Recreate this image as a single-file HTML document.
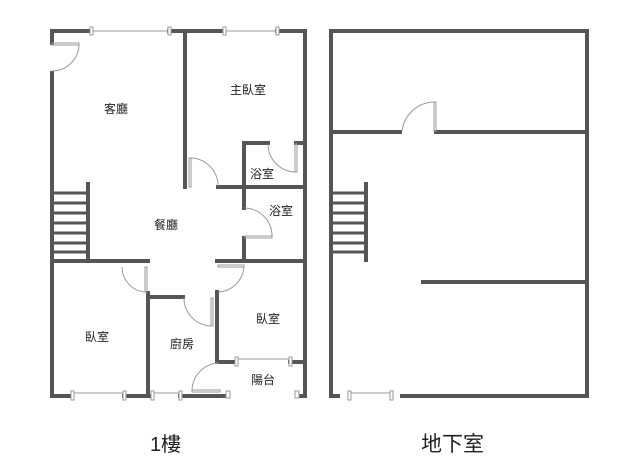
<!DOCTYPE html>
<html><head><meta charset="utf-8"><style>
html,body{margin:0;padding:0;background:#fff;}
svg{display:block}
text{font-family:"Liberation Sans","Noto Sans CJK TC",sans-serif;fill:#222}
</style></head><body>
<svg width="625" height="475" viewBox="0 0 625 475" xmlns="http://www.w3.org/2000/svg">
<g stroke="#555" stroke-width="4" fill="none" stroke-linecap="square">
<!-- 1F outer -->
<line x1="52" y1="31" x2="91" y2="31"/>
<line x1="169" y1="31" x2="224" y2="31"/>
<line x1="277" y1="31" x2="305" y2="31"/>
<line x1="52" y1="31" x2="52" y2="43"/>
<line x1="52" y1="73" x2="52" y2="396"/>
<line x1="305" y1="31" x2="305" y2="396"/>
<line x1="52" y1="396" x2="72" y2="396"/>
<line x1="124" y1="396" x2="152" y2="396"/>
<line x1="180" y1="396" x2="226" y2="396"/>
<line x1="299" y1="396" x2="305" y2="396"/>
<!-- interior -->
<line x1="185" y1="31" x2="185" y2="187"/>
<line x1="218" y1="187" x2="305" y2="187"/>
<line x1="244" y1="143" x2="268" y2="143"/>
<line x1="296" y1="143" x2="305" y2="143"/>
<line x1="244" y1="143" x2="244" y2="208"/>
<line x1="244" y1="238" x2="244" y2="261"/>
<line x1="88" y1="184" x2="88" y2="261"/>
<line x1="52" y1="261" x2="148" y2="261"/>
<line x1="148" y1="293" x2="148" y2="396"/>
<line x1="148" y1="297" x2="183" y2="297"/>
<line x1="217" y1="261" x2="305" y2="261"/>
<line x1="217" y1="292" x2="217" y2="362"/>
<line x1="217" y1="362" x2="236" y2="362"/>
<line x1="290" y1="362" x2="305" y2="362"/>
<!-- stairs 1F -->
<g stroke-width="3">
<line x1="52" y1="193" x2="88" y2="193"/><line x1="52" y1="203" x2="88" y2="203"/>
<line x1="52" y1="213" x2="88" y2="213"/><line x1="52" y1="223" x2="88" y2="223"/>
<line x1="52" y1="233" x2="88" y2="233"/><line x1="52" y1="243" x2="88" y2="243"/>
<line x1="52" y1="252" x2="88" y2="252"/>
</g>
<!-- B1 -->
<rect x="331" y="31" width="256" height="365"/>
<line x1="331" y1="132" x2="400" y2="132"/>
<line x1="436" y1="132" x2="587" y2="132"/>
<line x1="366" y1="184" x2="366" y2="260"/>
<line x1="423" y1="282" x2="587" y2="282"/>
<g stroke-width="3">
<line x1="331" y1="193" x2="366" y2="193"/><line x1="331" y1="203" x2="366" y2="203"/>
<line x1="331" y1="213" x2="366" y2="213"/><line x1="331" y1="223" x2="366" y2="223"/>
<line x1="331" y1="233" x2="366" y2="233"/><line x1="331" y1="243" x2="366" y2="243"/>
<line x1="331" y1="252" x2="366" y2="252"/>
</g>
</g>
<rect x="340" y="394" width="60" height="4" fill="#fff"/>
<!-- windows -->
<g stroke="#999" stroke-width="1" fill="#fff">
<line x1="91" y1="31" x2="169" y2="31"/><line x1="224" y1="31" x2="277" y2="31"/>
<line x1="72" y1="393" x2="124" y2="393"/><line x1="152" y1="393" x2="180" y2="393"/>
<line x1="236" y1="359" x2="290" y2="359"/><line x1="349" y1="393" x2="391" y2="393"/>
<rect x="90" y="27" width="3" height="8"/><rect x="168" y="27" width="3" height="8"/>
<rect x="223" y="27" width="3" height="8"/><rect x="276" y="27" width="3" height="8"/>
<rect x="71" y="391" width="3" height="9"/><rect x="123" y="391" width="3" height="9"/>
<rect x="151" y="391" width="3" height="9"/><rect x="179" y="391" width="3" height="9"/>
<rect x="235" y="357" width="3" height="9"/><rect x="289" y="357" width="3" height="9"/>
<rect x="348" y="391" width="3" height="9"/><rect x="390" y="391" width="3" height="9"/>
<rect x="226" y="391" width="4" height="7"/><rect x="295" y="391" width="4" height="7"/>
</g>
<!-- doors -->
<g stroke="#999" stroke-width="1" fill="none">
<path d="M79 44 A27 27 0 0 1 52 71"/><rect x="52" y="43" width="27" height="2"/>
<path d="M190 158 A28 28 0 0 1 218 186"/><rect x="189" y="158" width="2" height="29"/>
<path d="M268 144 A28 28 0 0 0 296 172"/><rect x="295" y="144" width="2" height="28"/>
<path d="M245 208 A28 28 0 0 1 272 237"/><rect x="245" y="236" width="27" height="2"/>
<path d="M122 267 A25 25 0 0 0 147 292"/><rect x="145" y="267" width="2" height="25"/>
<path d="M184 298 A28 28 0 0 0 212 326"/><rect x="211" y="298" width="2" height="28"/>
<path d="M244 266 A27 27 0 0 1 218 292"/><rect x="218" y="265" width="26" height="2"/>
<path d="M219 363 A28 28 0 0 0 192 390"/><rect x="192" y="390" width="28" height="2"/>
<path d="M402 131 A33 33 0 0 1 435 102"/><rect x="434" y="102" width="2" height="29"/>
</g>
<g font-size="12">
<text x="104" y="113">客廳</text>
<text x="230" y="94">主臥室</text>
<text x="250" y="178">浴室</text>
<text x="269" y="215">浴室</text>
<text x="154" y="229">餐廳</text>
<text x="85" y="341">臥室</text>
<text x="170" y="348">廚房</text>
<text x="256" y="323">臥室</text>
<text x="251" y="384">陽台</text>
</g>
<text x="150" y="451" font-size="20">1樓</text>
<text x="421" y="451" font-size="21" fill="#333">地下室</text>
</svg>
</body></html>
